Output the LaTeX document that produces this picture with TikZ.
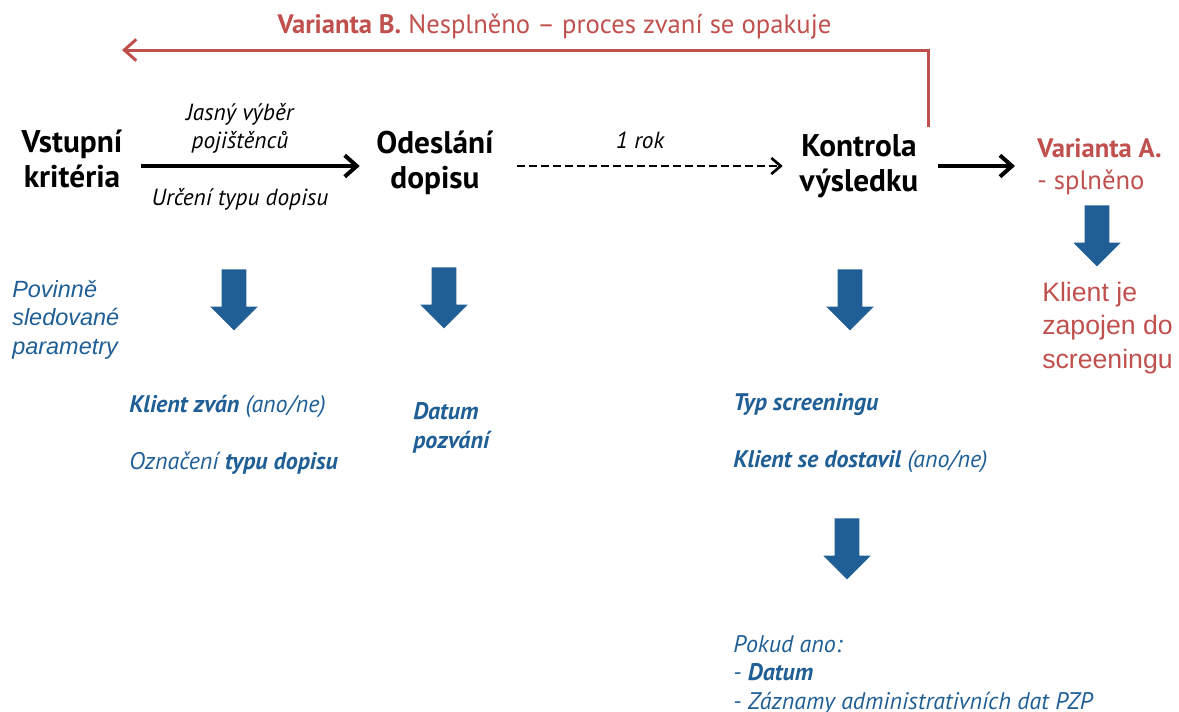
\documentclass[tikz,border=0pt]{standalone}
\usepackage{fontspec}
\setmainfont{PT Sans}
\newfontfamily\arialfont{Liberation Sans}
\usetikzlibrary{arrows.meta, shapes.arrows}
\usetikzlibrary{positioning}
\definecolor{varred}{HTML}{C0504D}
\definecolor{parblue}{HTML}{1F5F95}
\tikzstyle{stage} = [font=\fontsize{23.5}{26.5}\selectfont\bfseries, align=center, inner sep=0pt]
\tikzstyle{note} = [font=\fontsize{17.5}{21}\selectfont\itshape, align=center, inner sep=0pt]
\tikzstyle{outcome} = [font=\fontsize{20}{24}\selectfont, text=varred, inner sep=0pt]
\tikzstyle{param} = [font=\fontsize{18}{21.4}\selectfont\itshape, text=parblue, align=left, anchor=west, inner sep=0pt]
\tikzstyle{downarrow} = [single arrow, shape border rotate=270, fill=parblue, minimum height=45.75pt, minimum width=35.25pt, single arrow head extend=8.6pt, single arrow head indent=0pt, inner xsep=9pt, inner ysep=0pt, anchor=tail]
\tikzstyle{arrow} = [line width=3pt, -{Straight Barb[length=9pt, width=16pt]}]
\tikzstyle{dasharrow} = [line width=2pt, dash pattern=on 6pt off 3pt, -{Straight Barb[length=7pt, width=12pt]}]
\tikzstyle{looparrow} = [line width=2.25pt, draw=varred, line join=miter, -{Straight Barb[length=9pt, width=16pt]}]

\begin{document}
\begin{tikzpicture}[x=0.75pt, y=-0.75pt]
 \clip (0,0) rectangle (1179,711);

 \node (vstup) [stage, text width=80.5pt] at (72,159) {Vstupní\\kritéria};
 \node (odesl) [stage, text width=91pt] at (435,163) {Odeslání\\dopisu};
 \node (kontrola) [stage, text width=92.5pt] at (859,166) {Kontrola\\výsledku};
 \node (varA) [outcome, align=left, anchor=west] at (1037,167) {\textbf{Varianta A.}\\- splněno};
 \node (zapojen) [font=\arialfont\fontsize{20}{25.1}\selectfont, text=varred, align=left, anchor=west, inner sep=0pt] at (1042,328) {Klient je\\zapojen do\\screeningu};

 \node (vyber) [note] at (240,128) {Jasný výběr\\pojištěnců};
 \node (typdopisu) [note] at (240,199) {Určení typu dopisu};
 \node (rok) [note] at (640,140) {1 rok};

 \node (varB) [outcome] at (554.5,27) {\textbf{Varianta B.} Nesplněno – proces zvaní se opakuje};
 \coordinate (loopstart) at (928,127);
 \coordinate (loopend) at (122,50);

 \draw [arrow, shorten <=11.5pt, shorten >=10.75pt] (vstup.east |- kontrola.west) -- (odesl.west |- kontrola.west);
 \draw [dasharrow, shorten <=16pt, shorten >=10.75pt] (odesl.east |- kontrola.west) -- (kontrola.west);
 \draw [arrow, shorten <=13pt, shorten >=16.5pt] (kontrola.east) -- (kontrola.east -| varA.west);
 \draw [looparrow] (loopstart) |- (loopend);

 % parametry
 \node (povinne) [font=\arialfont\itshape\fontsize{17.6}{21.4}\selectfont, text=parblue, align=left, anchor=west, inner sep=0pt] at (12,319.5) {Povinně\\sledované\\parametry};
 \node (down1) [downarrow] at (234,269) {};
 \node (down2) [downarrow] at (444,267) {};
 \node (down3) [downarrow] at (850,269) {};
 \node (down4) [downarrow] at (847,518) {};
 \node (down5) [downarrow] at (1097,205) {};

 \node (zvan) [param] at (129,406) {\textbf{Klient zván} (ano/ne)};
 \node (oznaceni) [param] at (129,463) {Označení \textbf{typu dopisu}};
 \node (datum) [param] at (413,428) {\textbf{Datum}\\\textbf{pozvání}};
 \node (typscr) [param] at (733,405) {\textbf{Typ screeningu}};
 \node (dostavil) [param] at (733,462) {\textbf{Klient se dostavil} (ano/ne)};
 \node (pokud) [param] at (733,674.5) {Pokud ano:\\- \textbf{Datum}\\- Záznamy administrativních dat PZP};
\end{tikzpicture}
\end{document}
